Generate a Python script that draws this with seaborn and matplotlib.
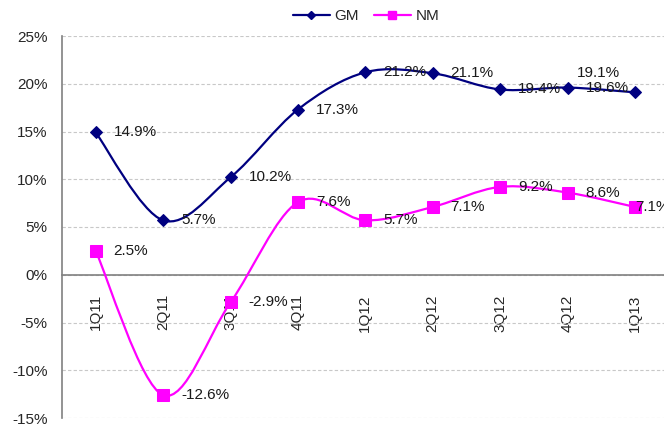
import numpy as np
import matplotlib
matplotlib.use('Agg')
import matplotlib.pyplot as plt
import seaborn as sns
from matplotlib.path import Path
from matplotlib.patches import PathPatch
from matplotlib.lines import Line2D

# chart data (percent)
quarters = ['1Q11', '2Q11', '3Q11', '4Q11', '1Q12', '2Q12', '3Q12', '4Q12', '1Q13']
gm = [14.9, 5.7, 10.2, 17.3, 21.2, 21.1, 19.4, 19.6, 19.1]
nm = [2.5, -12.6, -2.9, 7.6, 5.7, 7.1, 9.2, 8.6, 7.1]

GM_COLOR = '#000080'
NM_COLOR = '#FF00FF'
AXIS_GREY = '#808080'

sns.set_style('white')
plt.rcParams['font.family'] = ['Liberation Sans', 'DejaVu Sans']
plt.rcParams['font.size'] = 11


def smooth_path(xs, ys):
    # Excel-style smoothed line: Catmull-Rom segments as cubic Bezier curves
    pts = np.column_stack([xs, ys]).astype(float)
    n = len(pts)
    verts = [pts[0]]
    codes = [Path.MOVETO]
    for i in range(n - 1):
        p0 = pts[max(i - 1, 0)]
        p1 = pts[i]
        p2 = pts[i + 1]
        p3 = pts[min(i + 2, n - 1)]
        c1 = p1 + (p2 - p0) / 6.0
        c2 = p2 - (p3 - p1) / 6.0
        verts += [c1, c2, p2]
        codes += [Path.CURVE4] * 3
    return Path(verts, codes)


fig = plt.figure(figsize=(6.64, 4.24), dpi=100)
ax = fig.add_axes([62 / 664, 6 / 424, 606.6 / 664, 382 / 424])

xpos = np.arange(len(quarters))

for vals, color in [(gm, GM_COLOR), (nm, NM_COLOR)]:
    ax.add_patch(PathPatch(smooth_path(xpos, vals), facecolor='none',
                           edgecolor=color, lw=1.6, zorder=3))

sns.lineplot(x=xpos, y=gm, ax=ax, color=GM_COLOR, linestyle='', marker='D',
             markersize=5.8, markeredgecolor=GM_COLOR, zorder=4)
sns.lineplot(x=xpos, y=nm, ax=ax, color=NM_COLOR, linestyle='', marker='s',
             markersize=8, markeredgecolor=NM_COLOR, zorder=4)

# data labels (offsets in pixels)
gm_offsets = [(18, 0)] * 8 + [(-58, 19)]
nm_offsets = [(18, 0)] * 8 + [(0, 0)]
for vals, offs in [(gm, gm_offsets), (nm, nm_offsets)]:
    for x, v, (dx, dy) in zip(xpos, vals, offs):
        ax.annotate(f'{v:.1f}%', (x, v), xytext=(dx, dy), textcoords='offset pixels',
                    ha='left', va='center', fontsize=11, color='#1a1a1a', zorder=5)

ax.set_xlim(-0.5, len(quarters) - 0.5)
ax.set_ylim(-15, 25)
ax.set_yticks(np.arange(-15, 26, 5))
ax.set_yticklabels([f'{t}%' for t in range(-15, 26, 5)])
ax.yaxis.grid(True, linestyle=(0, (3, 2)), color='#c8c8c8', lw=0.8)
ax.set_axisbelow(True)

ax.set_xticks(xpos)
ax.set_xticklabels(quarters)
ax.set_xticks(xpos[:-1] + 0.5, minor=True)
ax.tick_params(axis='x', which='major', length=0, pad=14, labelsize=11, labelrotation=90)
ax.tick_params(axis='x', which='minor', direction='in', length=4, color=AXIS_GREY, width=1)
ax.tick_params(axis='y', direction='inout', length=5, color=AXIS_GREY, width=1, pad=8, labelsize=11)
for lab in ax.get_xticklabels():
    lab.set_verticalalignment('top')

ax.spines['bottom'].set_position(('data', 0))
for side in ['top', 'right']:
    ax.spines[side].set_visible(False)
for side in ['left', 'bottom']:
    ax.spines[side].set_color(AXIS_GREY)
    ax.spines[side].set_linewidth(1.2)

handles = [Line2D([], [], color=GM_COLOR, lw=1.6, marker='D', markersize=4),
           Line2D([], [], color=NM_COLOR, lw=1.6, marker='s', markersize=5.5)]
fig.legend(handles, ['GM', 'NM'], loc='center', bbox_to_anchor=(366 / 664, 1 - 16 / 424),
           ncol=2, frameon=False, fontsize=11, handlelength=2.4, handletextpad=0.3,
           columnspacing=1.0)

fig.savefig('out.png', dpi=100, facecolor='white')
